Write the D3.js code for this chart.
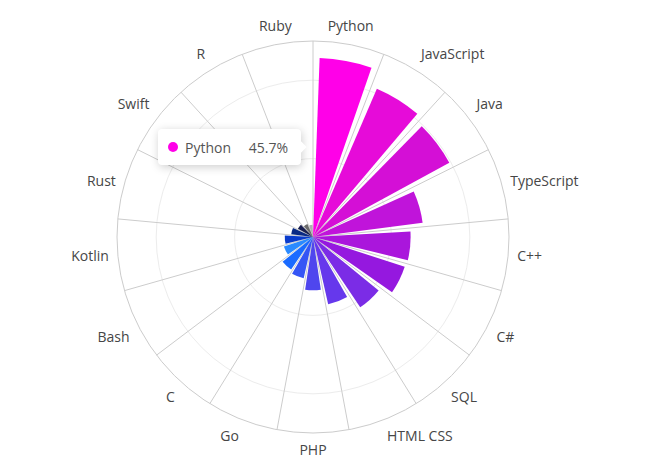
<!DOCTYPE html>
<html>
<head>
<meta charset="utf-8">
<script src="https://cdn.jsdelivr.net/npm/d3@7"></script>
<style>
    body { margin: 0; background: #fff; font-family: "Open Sans", sans-serif; }
    #chart { position: relative; width: 652px; height: 475px; }
    .tooltip {
        position: absolute;
        background: #fff;
        border-radius: 4px;
        box-shadow: 1px 2px 10px rgba(0, 0, 0, 0.2);
        padding: 0 13px 0 10px;
        font-size: 14px;
        color: #555;
        display: flex;
        align-items: center;
        box-sizing: border-box;
    }
    .tooltip .arrow {
        position: absolute;
        width: 8px;
        height: 8px;
        background: #fff;
        transform: rotate(45deg);
        right: -4px;
        top: 50%;
        margin-top: -4px;
    }
    .tooltip .dot { width: 10px; height: 10px; border-radius: 50%; margin-right: 7px; }
    .tooltip .val { margin-left: auto; }
</style>
</head>
<body>
<div id="chart"></div>
<script>
const categories = ['Python', 'JavaScript', 'Java', 'TypeScript', 'C++', 'C#', 'SQL', 'HTML CSS',
    'PHP', 'Go', 'C', 'Bash', 'Kotlin', 'Rust', 'Swift', 'R', 'Ruby'];
const values = [45.7, 41.2, 39.6, 28.2, 24.9, 24.6, 21.6, 17.6, 13.6, 10.8, 10.0, 7.8, 7.2, 5.6, 4.4, 3.6, 3.1];
const radiusTicks = [20, 40];
const maxValue = 50;

const colors = ['#ff00e8', '#e60bd9', '#d40fd6', '#c014da', '#aa16dc', '#9518df', '#7b2ce6', '#6638ec',
    '#4f46ee', '#3555f5', '#1a6bff', '#2a8aff', '#0a3ccc', '#0a2a84', '#1a2050', '#6a6a6a', '#b0b0b0'];

const width = 652, height = 475;
const cx = 313, cy = 237, outerR = 196;

const svg = d3.select('#chart').append('svg')
    .attr('width', width)
    .attr('height', height);

const g = svg.append('g').attr('transform', `translate(${cx},${cy})`);

// sectors without padding for grid + labels, padded one for bars
const sector = d3.scaleBand().domain(categories).range([0, 2 * Math.PI]);
const x = d3.scaleBand().domain(categories).range([0, 2 * Math.PI]).paddingInner(0.2).paddingOuter(0.1);
const y = d3.scaleLinear().domain([0, maxValue]).range([0, outerR]);

// inner circles
g.selectAll('.grid-circle')
    .data(radiusTicks)
    .join('circle')
    .attr('class', 'grid-circle')
    .attr('r', d => y(d))
    .attr('fill', 'none')
    .attr('stroke', '#ececec')
    .attr('stroke-width', 1);

// radial split lines
g.selectAll('.split')
    .data(categories)
    .join('line')
    .attr('class', 'split')
    .attr('x1', 0).attr('y1', 0)
    .attr('x2', d => Math.sin(sector(d)) * outerR)
    .attr('y2', d => -Math.cos(sector(d)) * outerR)
    .attr('stroke', '#cccccc')
    .attr('stroke-width', 1);

// outer circle
g.append('circle')
    .attr('r', outerR)
    .attr('fill', 'none')
    .attr('stroke', '#cccccc')
    .attr('stroke-width', 1);

const arc = d3.arc()
    .innerRadius(0)
    .outerRadius(d => y(d.value))
    .startAngle(d => x(d.cat))
    .endAngle(d => x(d.cat) + x.bandwidth());

g.selectAll('.bar')
    .data(categories.map((c, i) => ({cat: c, value: values[i]})))
    .join('path')
    .attr('class', 'bar')
    .attr('d', arc)
    .attr('fill', (d, i) => colors[i]);

// angle labels
const labelR = outerR + 9;
g.selectAll('.label')
    .data(categories)
    .join('text')
    .attr('class', 'label')
    .each(function(d) {
        const a = sector(d) + sector.bandwidth() / 2;
        const sx = Math.sin(a), sy = -Math.cos(a);
        const anchor = Math.abs(sx) < 0.3 ? 'middle' : (sx > 0 ? 'start' : 'end');
        const dy = Math.abs(sy) < 0.3 ? '0.35em' : (sy > 0 ? '0.95em' : '-0.3em');
        d3.select(this)
            .attr('x', sx * labelR)
            .attr('y', sy * labelR)
            .attr('dy', dy)
            .attr('text-anchor', anchor);
    })
    .attr('font-size', 14)
    .attr('fill', '#464646')
    .text(d => d);

// tooltip for the first category
const tip = d3.select('#chart').append('div')
    .attr('class', 'tooltip')
    .style('left', '158px')
    .style('top', '129px')
    .style('width', '143px')
    .style('height', '36px');
tip.append('div').attr('class', 'arrow');
tip.append('div').attr('class', 'dot').style('background', colors[0]);
tip.append('span').text(categories[0]);
tip.append('span').attr('class', 'val').text(`${values[0]}%`);
</script>
</body>
</html>
